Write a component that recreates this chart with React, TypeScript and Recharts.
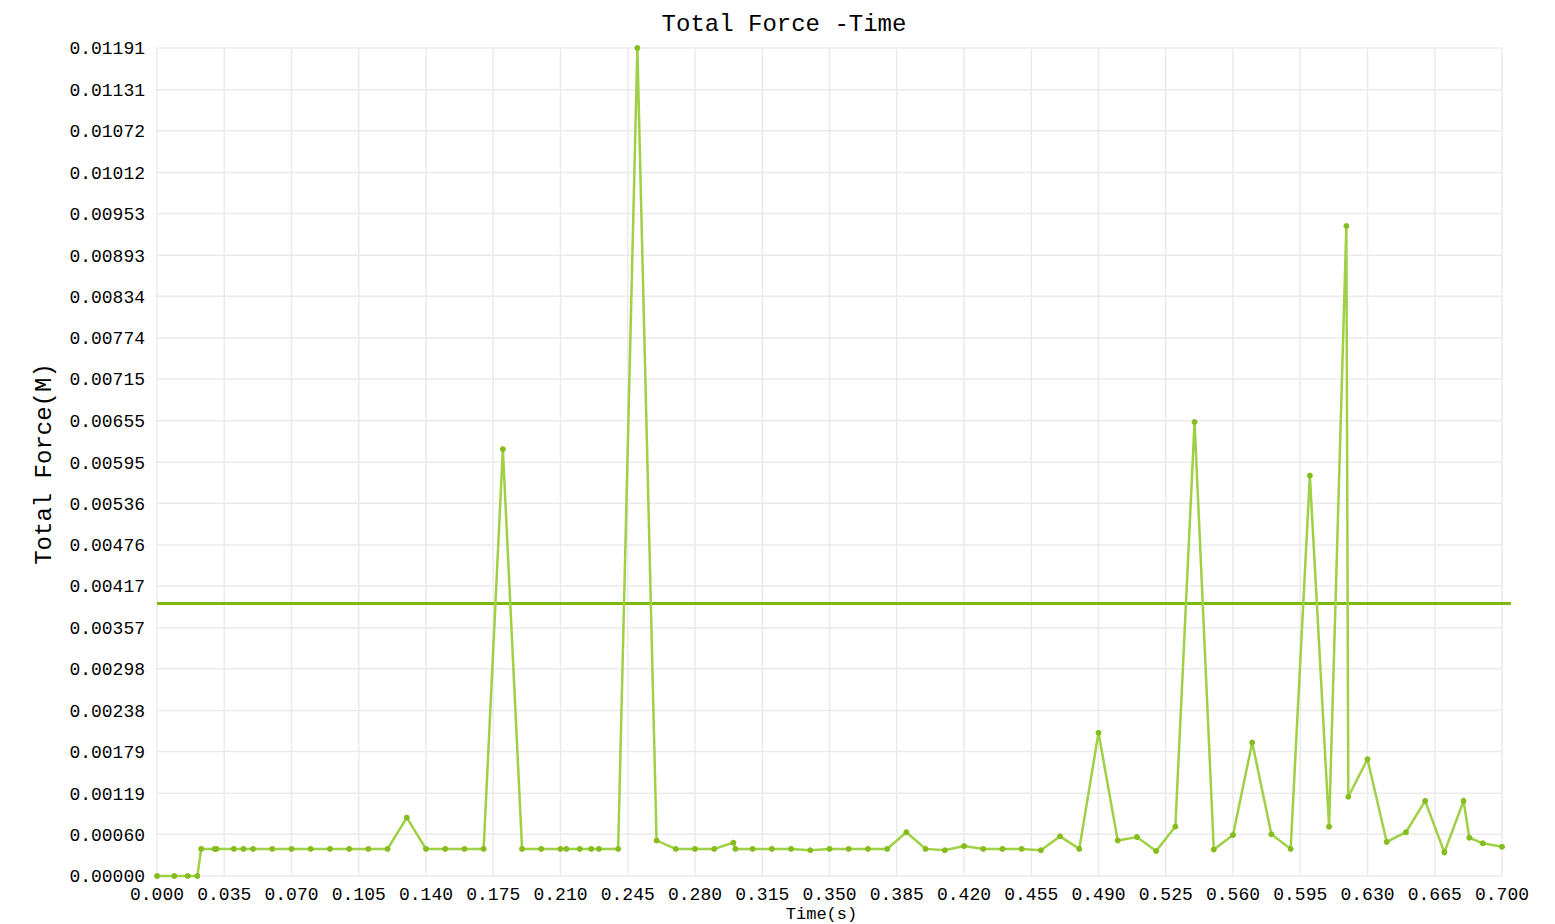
import { CartesianGrid, Line, LineChart, ReferenceLine, XAxis, YAxis } from 'recharts';

// sample times (s)
const TIMES = [
  0, 0.009, 0.016, 0.021, 0.023, 0.03, 0.031, 0.04, 0.045, 0.05,
  0.06, 0.07, 0.08, 0.09, 0.1, 0.11, 0.12, 0.13, 0.14, 0.15,
  0.16, 0.17, 0.18, 0.19, 0.2, 0.21, 0.213, 0.22, 0.226, 0.23,
  0.24, 0.25, 0.26, 0.27, 0.28, 0.29, 0.3, 0.301, 0.31, 0.32,
  0.33, 0.34, 0.35, 0.36, 0.37, 0.38, 0.39, 0.4, 0.41, 0.42,
  0.43, 0.44, 0.45, 0.46, 0.47, 0.48, 0.49, 0.5, 0.51, 0.52,
  0.53, 0.54, 0.55, 0.56, 0.57, 0.58, 0.59, 0.6, 0.61, 0.619,
  0.62, 0.63, 0.64, 0.65, 0.66, 0.67, 0.68, 0.683, 0.69, 0.7,
];

// total force (M), same order as TIMES
const FORCES = [
  0, 0, 0, 0, 0.00039, 0.00039, 0.00039, 0.00039, 0.00039, 0.00039,
  0.00039, 0.00039, 0.00039, 0.00039, 0.00039, 0.00039, 0.00039, 0.00084, 0.00039, 0.00039,
  0.00039, 0.00039, 0.00614, 0.00039, 0.00039, 0.00039, 0.00039, 0.00039, 0.00039, 0.00039,
  0.00039, 0.01191, 0.00051, 0.00039, 0.00039, 0.00039, 0.00048, 0.00039, 0.00039, 0.00039,
  0.00039, 0.00037, 0.00039, 0.00039, 0.00039, 0.00039, 0.00063, 0.00039, 0.00037, 0.00043,
  0.00039, 0.00039, 0.00039, 0.00037, 0.00057, 0.00039, 0.00206, 0.00051, 0.00056, 0.00036,
  0.00071, 0.00653, 0.00038, 0.00059, 0.00192, 0.0006, 0.00039, 0.00576, 0.00071, 0.00935,
  0.00114, 0.00168, 0.00049, 0.00063, 0.00108, 0.00034, 0.00108, 0.00055, 0.00047, 0.00042,
];

const THRESHOLD = 0.00392;

const X_TICKS = [
  0, 0.035, 0.07, 0.105, 0.14, 0.175, 0.21, 0.245, 0.28, 0.315, 0.35,
  0.385, 0.42, 0.455, 0.49, 0.525, 0.56, 0.595, 0.63, 0.665, 0.7,
];

const Y_TICKS = [
  0, 0.0006, 0.00119, 0.00179, 0.00238, 0.00298, 0.00357, 0.00417, 0.00476, 0.00536, 0.00595,
  0.00655, 0.00715, 0.00774, 0.00834, 0.00893, 0.00953, 0.01012, 0.01072, 0.01131, 0.01191,
];

const data = TIMES.map((t, i) => ({ time: t, force: FORCES[i] }));

const FONT = '"Liberation Mono", "DejaVu Sans Mono", monospace';
const LINE_COLOR = '#9fd045';
const DOT_COLOR = '#86bd1e';
const REF_COLOR = '#7fb80e';

function YLabel({ viewBox }: any) {
  const cx = viewBox.x + 44;
  const cy = viewBox.y + viewBox.height / 2 + 2;
  return (
    <text
      x={cx}
      y={cy}
      transform={`rotate(-90, ${cx}, ${cy})`}
      textAnchor="middle"
      dominantBaseline="central"
      fontFamily={FONT}
      fontSize={24}
      fill="#000">
      Total Force(M)
    </text>
  );
}

function XLabel({ viewBox }: any) {
  return (
    <text
      x={viewBox.x + viewBox.width / 2 - 8}
      y={viewBox.y + 43}
      textAnchor="middle"
      fontFamily={FONT}
      fontSize={17}
      fill="#000">
      Time(s)
    </text>
  );
}

// threshold line runs a little past the right edge of the grid
function RefShape(p: any) {
  return <line x1={p.x1} y1={p.y1} x2={p.x2 + 9} y2={p.y2} stroke={REF_COLOR} strokeWidth={3} />;
}

export default function App() {
  return (
    <div style={{ position: 'absolute', left: 0, top: 0, width: 1555, height: 924, background: '#fff' }}>
      <div
        style={{
          position: 'absolute',
          top: 10,
          left: 0,
          width: 1568,
          textAlign: 'center',
          fontFamily: FONT,
          fontSize: 24,
          color: '#000',
          lineHeight: '30px',
        }}>
        Total Force -Time
      </div>
      <LineChart width={1555} height={924} data={data} margin={{ top: 48, right: 53, bottom: 8, left: 0 }}>
        <CartesianGrid stroke="#ebebeb" strokeWidth={1.5} />
        <XAxis
          dataKey="time"
          type="number"
          domain={[0, 0.7]}
          ticks={X_TICKS}
          tickFormatter={(v: number) => v.toFixed(3)}
          height={40}
          axisLine={false}
          tickLine={false}
          tickSize={0}
          tickMargin={11}
          interval={0}
          tick={{ fill: '#000', fontSize: 18, fontFamily: FONT }}
          label={<XLabel />}
        />
        <YAxis
          type="number"
          domain={[0, 0.01191]}
          ticks={Y_TICKS}
          tickFormatter={(v: number) => v.toFixed(5)}
          width={157}
          axisLine={false}
          tickLine={false}
          tickSize={0}
          tickMargin={12}
          interval={0}
          tick={{ fill: '#000', fontSize: 18, fontFamily: FONT }}
          label={<YLabel />}
        />
        <ReferenceLine y={THRESHOLD} shape={RefShape} />
        <Line
          type="linear"
          dataKey="force"
          stroke={LINE_COLOR}
          strokeWidth={2.5}
          dot={{ r: 2.5, fill: DOT_COLOR, stroke: DOT_COLOR, strokeWidth: 1 }}
          activeDot={false}
          isAnimationActive={false}
        />
      </LineChart>
    </div>
  );
}
